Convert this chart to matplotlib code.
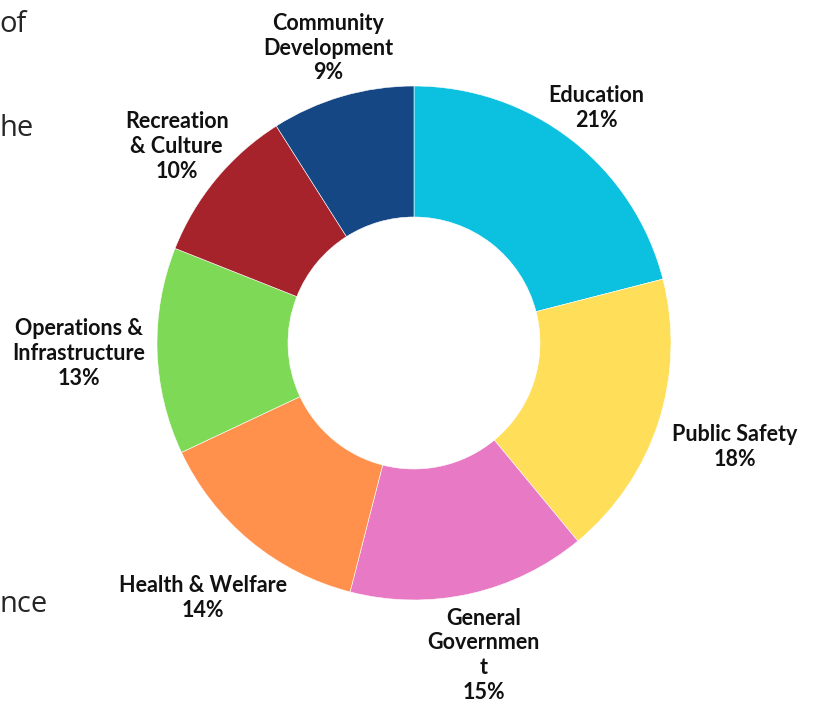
import numpy as np
import matplotlib.pyplot as plt

# budget shares, clockwise from the top
categories = ['Education', 'Public Safety', 'General\nGovernmen\nt', 'Health & Welfare',
              'Operations &\nInfrastructure', 'Recreation\n& Culture', 'Community\nDevelopment']
shares = [21, 18, 15, 14, 13, 10, 9]

colors = ['#0CC0DF', '#FFDE59', '#E879C4', '#FF914D', '#7ED957', '#A6232B', '#144784']
label_r = [297, 337, 320, 331, 335, 308, 307]  # label distance from centre, px

fig = plt.figure(figsize=(8.13, 7.05), dpi=100)
ax = fig.add_axes([0, 0, 1, 1])

cx, cy, R = 414, 362, 257
ax.pie(shares, colors=colors, radius=R, center=(cx, cy), startangle=90,
       counterclock=False, frame=True,
       wedgeprops=dict(width=131, edgecolor='white', linewidth=0.4))
ax.set_xlim(0, 813)
ax.set_ylim(0, 705)
ax.set_aspect('equal')
ax.axis('off')

# labels at the middle of each slice
cum = np.cumsum([0] + shares[:-1])
for name, s, c0, r in zip(categories, shares, cum, label_r):
    ang = np.deg2rad(90 - (c0 + s / 2) / sum(shares) * 360)
    ax.text(cx + r * np.cos(ang), cy + r * np.sin(ang), f'{name}\n{s}%',
            ha='center', va='center', fontsize=15.5, fontweight='bold',
            family='Lato', color='#111111', linespacing=1.22)

# fragments of a paragraph cut off at the left edge
for word, y in [('of', 680), ('he', 577), ('nce', 100)]:
    ax.text(-1, y, word, ha='left', va='center', fontsize=21,
            family='Open Sans', color='#262626')

fig.savefig('out.png', dpi=100)
